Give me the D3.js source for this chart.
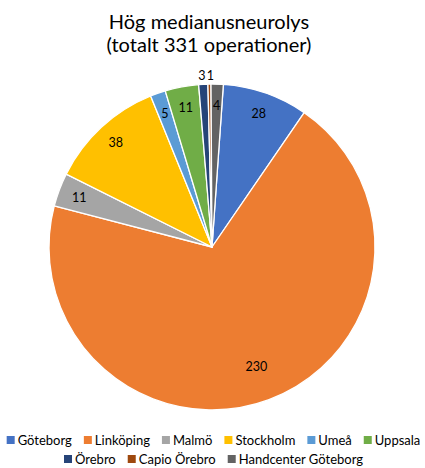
<!DOCTYPE html>
<html>
<head>
<meta charset="utf-8">
<script src="https://cdn.jsdelivr.net/npm/d3@7"></script>
<style>
  html, body { margin: 0; padding: 0; background: #fff; }
  svg { display: block; font-family: "Lato", "Open Sans", sans-serif; }
</style>
</head>
<body>
<svg id="chart" width="425" height="468"></svg>
<script>
// Operations per clinic
const clinics = ["Göteborg", "Linköping", "Malmö", "Stockholm", "Umeå", "Uppsala",
                 "Örebro", "Capio Örebro", "Handcenter Göteborg"];
const operations = [28, 230, 11, 38, 5, 11, 3, 1, 4];
const sliceColors = ["#4472C4", "#ED7D31", "#A5A5A5", "#FFC000", "#5B9BD5", "#70AD47",
                     "#264478", "#9E480E", "#636363"];
const titleLines = ["Hög medianusneurolys", "(totalt 331 operationer)"];
// thin slices whose value labels sit outside the rim
const outsideLabels = ["Örebro", "Capio Örebro"];

const svg = d3.select("#chart");
const W = 425;
const cx = 212, cy = 247, R = 163;

// title
svg.append("text")
  .attr("text-anchor", "middle")
  .attr("font-size", 20)
  .attr("fill", "#000")
  .selectAll("tspan")
  .data(titleLines)
  .join("tspan")
  .attr("x", 209)
  .attr("y", (d, i) => 29 + i * 23)
  .text(d => d);

const data = clinics.map((c, i) => ({ clinic: c, value: operations[i], color: sliceColors[i] }));

const offset = 4 * Math.PI / 180;
const pie = d3.pie()
  .value(d => d.value)
  .sort(null)
  .startAngle(offset)
  .endAngle(offset + 2 * Math.PI);

const arcs = pie(data);
const arc = d3.arc().innerRadius(0).outerRadius(R);

const g = svg.append("g").attr("transform", `translate(${cx},${cy})`);

g.selectAll("path")
  .data(arcs)
  .join("path")
  .attr("d", arc)
  .attr("fill", d => d.data.color)
  .attr("stroke", "#fff")
  .attr("stroke-width", 1.3)
  .attr("stroke-linejoin", "round");

function labelRadius(d) {
  if (outsideLabels.includes(d.data.clinic)) return R + 9;
  if (d.data.value > 100) return R * 0.78;
  return R * 0.87;
}

g.selectAll("text.val")
  .data(arcs)
  .join("text")
  .attr("class", "val")
  .attr("text-anchor", "middle")
  .attr("dominant-baseline", "central")
  .attr("font-size", 12.5)
  .attr("fill", "#000")
  .attr("transform", d => {
    const r = labelRadius(d);
    const a = (d.startAngle + d.endAngle) / 2;
    const dx = outsideLabels.includes(d.data.clinic) ? (d.data.value > 1 ? -1 : 1) : 0;
    return `translate(${r * Math.sin(a) + dx},${-r * Math.cos(a)})`;
  })
  .text(d => d.value);

// legend, two centred rows
const legendRows = [clinics.slice(0, 6), clinics.slice(6)];
const rowY = [440, 459];
const box = 8, boxGap = 3, itemGap = 12;
const legend = svg.append("g").attr("font-size", 13).attr("fill", "#000");

legendRows.forEach((row, ri) => {
  const rg = legend.append("g");
  let x = 0;
  row.forEach(name => {
    const i = clinics.indexOf(name);
    const item = rg.append("g").attr("transform", `translate(${x},0)`);
    item.append("rect")
      .attr("x", 0).attr("y", rowY[ri] - 4)
      .attr("width", box).attr("height", box)
      .attr("fill", sliceColors[i]);
    const t = item.append("text")
      .attr("x", box + boxGap)
      .attr("y", rowY[ri])
      .attr("dominant-baseline", "central")
      .text(name);
    x += box + boxGap + t.node().getComputedTextLength() + itemGap;
  });
  const total = x - itemGap;
  rg.attr("transform", `translate(${(W - total) / 2 + 1},0)`);
});
</script>
</body>
</html>
